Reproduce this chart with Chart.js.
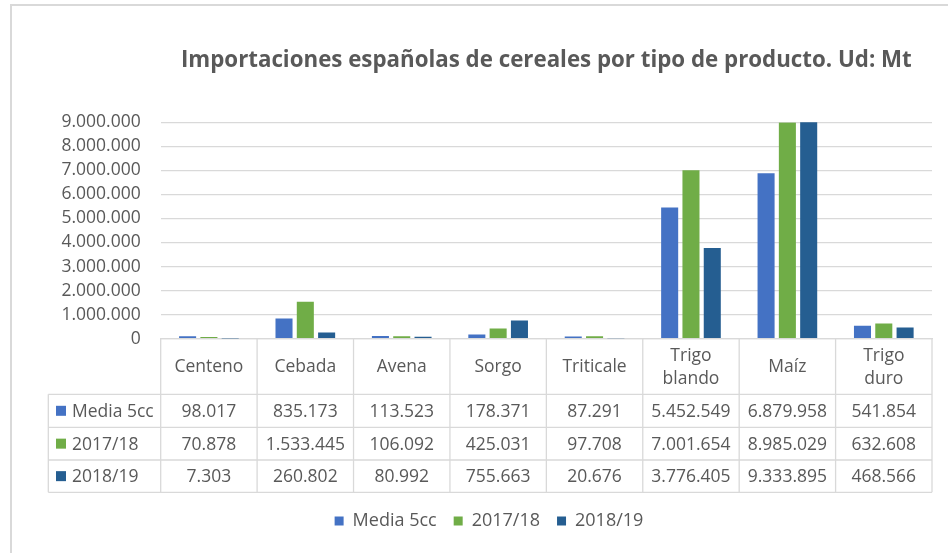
<!DOCTYPE html>
<html>
<head>
<meta charset="utf-8">
<script src="https://cdn.jsdelivr.net/npm/chart.js@4/dist/chart.umd.min.js"></script>
<style>
  html, body { margin: 0; padding: 0; background: #ffffff; }
  #wrap { position: relative; width: 948px; height: 553px; overflow: hidden; background: #ffffff; }
  #frame { position: absolute; left: 10px; top: 4px; width: 940px; height: 560px;
           border-top: 2px solid #d9d9d9; border-left: 2px solid #d9d9d9; pointer-events: none; }
  canvas { position: absolute; left: 0; top: 0; }
</style>
</head>
<body>
<div id="wrap">
  <canvas id="c" width="948" height="553"></canvas>
  <div id="frame"></div>
</div>
<script>
const categories = ['Centeno', 'Cebada', 'Avena', 'Sorgo', 'Triticale', 'Trigo blando', 'Maíz', 'Trigo duro'];
const categoryLines = [['Centeno'], ['Cebada'], ['Avena'], ['Sorgo'], ['Triticale'], ['Trigo', 'blando'], ['Maíz'], ['Trigo', 'duro']];
const seriesNames = ['Media 5cc', '2017/18', '2018/19'];
const media5cc = [98017, 835173, 113523, 178371, 87291, 5452549, 6879958, 541854];
const y201718 = [70878, 1533445, 106092, 425031, 97708, 7001654, 8985029, 632608];
const y201819 = [7303, 260802, 80992, 755663, 20676, 3776405, 9333895, 468566];
const yTicks = [0, 1000000, 2000000, 3000000, 4000000, 5000000, 6000000, 7000000, 8000000, 9000000];
const titleText = 'Importaciones españolas de cereales por tipo de producto. Ud: Mt';

const colors = ['#4472C4', '#70AD47', '#255E91'];
const textColor = '#595959';
const gridColor = '#d9d9d9';
const FONT = "'Open Sans', sans-serif";

function fmt(n) {
  return String(Math.round(n)).replace(/\B(?=(\d{3})+(?!\d))/g, '.');
}

const seriesData = [media5cc, y201718, y201819];

const dataTablePlugin = {
  id: 'dataTable',
  afterDraw(chart) {
    const ctx = chart.ctx;
    const xs = chart.scales.x;
    const area = chart.chartArea;
    const n = categories.length;
    const cw = (area.right - area.left) / n;
    const top = area.bottom;
    const rowTops = [394.3, 427.3, 460, 492.3];
    const tableLeft = 48.3;
    ctx.save();
    ctx.strokeStyle = gridColor;
    ctx.lineWidth = 1.3;
    rowTops.forEach(y => {
      ctx.beginPath();
      ctx.moveTo(tableLeft, y);
      ctx.lineTo(area.right, y);
      ctx.stroke();
    });
    ctx.beginPath();
    ctx.moveTo(tableLeft, rowTops[0]);
    ctx.lineTo(tableLeft, rowTops[3]);
    ctx.stroke();
    for (let i = 0; i <= n; i++) {
      const x = area.left + i * cw;
      ctx.beginPath();
      ctx.moveTo(x, top);
      ctx.lineTo(x, rowTops[3]);
      ctx.stroke();
    }
    ctx.fillStyle = textColor;
    ctx.font = "17.5px " + FONT;
    ctx.textAlign = 'center';
    ctx.textBaseline = 'middle';
    const headerMid = (top + rowTops[0]) / 2;
    const lh = 23;
    for (let i = 0; i < n; i++) {
      const cx = xs.getPixelForValue(i);
      const lines = categoryLines[i];
      const start = headerMid - (lines.length - 1) * lh / 2;
      lines.forEach((t, k) => ctx.fillText(t, cx, start + k * lh + 1));
    }
    for (let r = 0; r < 3; r++) {
      const mid = (rowTops[r] + rowTops[r + 1]) / 2 + 1;
      ctx.fillStyle = colors[r];
      ctx.fillRect(56, mid - 6, 10, 10);
      ctx.fillStyle = textColor;
      ctx.textAlign = 'left';
      ctx.fillText(seriesNames[r], 72, mid);
      ctx.textAlign = 'center';
      for (let i = 0; i < n; i++) {
        ctx.fillText(fmt(seriesData[r][i]), xs.getPixelForValue(i), mid);
      }
    }
    ctx.restore();
  }
};

const chart = new Chart(document.getElementById('c'), {
  type: 'bar',
  data: {
    labels: categories,
    datasets: seriesNames.map((name, i) => ({
      label: name,
      data: seriesData[i],
      backgroundColor: colors[i],
      borderWidth: 0,
      categoryPercentage: 0.663,
      barPercentage: 0.8
    }))
  },
  options: {
    responsive: false,
    animation: false,
    devicePixelRatio: 1,
    layout: { padding: { left: 46, right: 16, top: 0, bottom: 13 } },
    plugins: {
      title: {
        display: true,
        text: titleText,
        fullSize: false,
        color: textColor,
        font: { family: FONT, size: 22.3, weight: 'bold', lineHeight: 1.2 },
        padding: { top: 47, bottom: 48.5 }
      },
      legend: {
        display: true,
        position: 'bottom',
        labels: {
          color: textColor,
          font: { family: FONT, size: 18 },
          boxWidth: 9,
          boxHeight: 9,
          padding: 17
        }
      },
      tooltip: { enabled: false }
    },
    scales: {
      x: {
        grid: { display: false },
        border: { display: true, color: gridColor, width: 1.3 },
        ticks: { display: false },
        afterFit(scale) { scale.height = 156.3; }
      },
      y: {
        min: 0,
        max: 9000000,
        afterBuildTicks(scale) { scale.ticks = yTicks.map(v => ({ value: v })); },
        grid: { color: gridColor, lineWidth: 1.3, drawTicks: false },
        border: { display: false },
        ticks: {
          color: textColor,
          font: { family: FONT, size: 17.5 },
          padding: 20,
          callback: v => fmt(v)
        },
        afterFit(scale) { scale.width = 114.7; }
      }
    }
  },
  plugins: [dataTablePlugin]
});
</script>
</body>
</html>
